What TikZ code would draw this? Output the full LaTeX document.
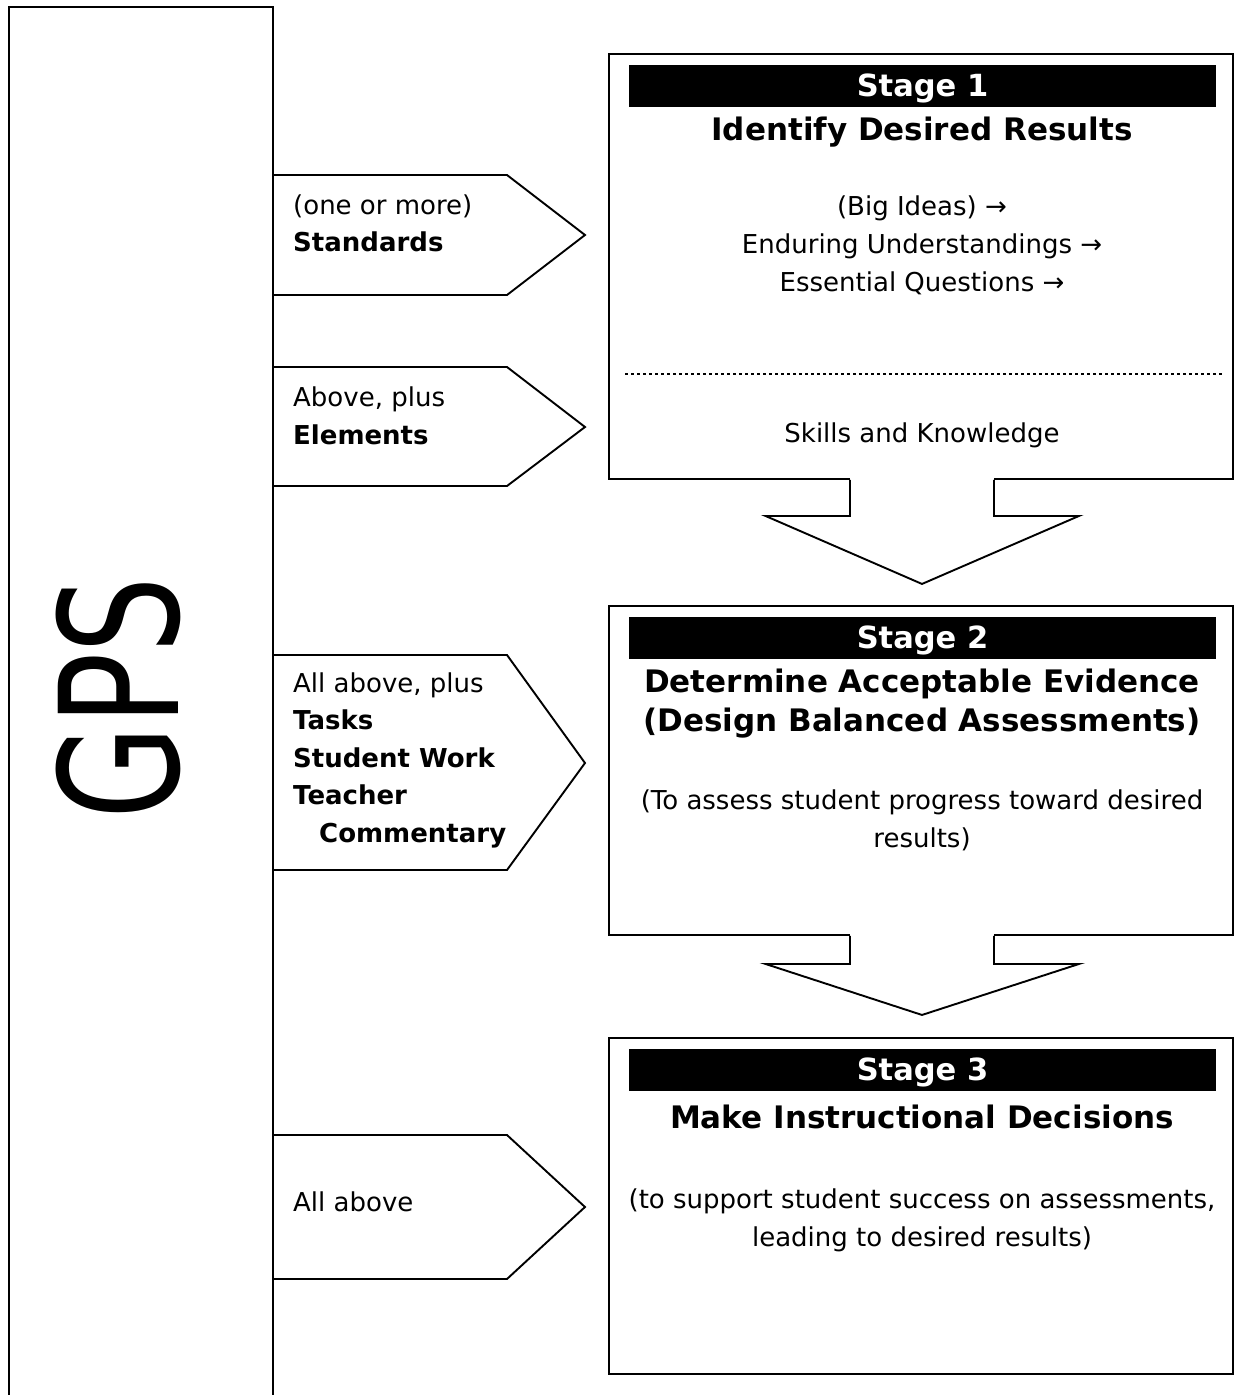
\documentclass[tikz,border=0pt]{standalone}
\usepackage{fontspec}
\setmainfont{DejaVu Sans}
\usetikzlibrary{calc}
\begin{document}
\begin{tikzpicture}[x=1pt,y=-1pt,
  outline/.style={draw=black,line width=1.9pt,line join=miter},
  stagebox/.style={outline,rectangle,minimum width=624pt,inner sep=0pt},
  stagebar/.style={fill=black,minimum width=587pt,minimum height=42pt,inner sep=0pt},
  stagelabel/.style={text=white,inner sep=0pt,font=\fontsize{30.5}{36}\selectfont\bfseries},
  titletext/.style={align=center,inner sep=0pt,font=\fontsize{31}{39}\selectfont\bfseries},
  bodytext/.style={align=center,inner sep=0pt,font=\fontsize{26}{38}\selectfont},
  sidetext/.style={align=left,anchor=west,inner sep=0pt,font=\fontsize{26}{37.5}\selectfont}]
\useasboundingbox (0,0) rectangle (1235,1395);
\fill[white] (0,0) rectangle (1235,1395);

% GPS column (open at the bottom)
\draw[outline] (9,1400) -- (9,7) -- (273,7) -- (273,1400);
\node[rotate=90,inner sep=0pt,font=\fontsize{165}{165}\selectfont] (gps) at (118,698) {\scalebox{0.73}[1]{GPS}};

% pentagon arrows leaving the GPS column
\draw[outline] (273,175) -- (507,175) -- (585,235) -- (507,295) -- (273,295);
\node[sidetext] (std) at (293,223.5) {(one or more)\\\textbf{Standards}};

\draw[outline] (273,367) -- (507,367) -- (585,427) -- (507,486) -- (273,486);
\node[sidetext] (elm) at (293,416) {Above, plus\\\textbf{Elements}};

\draw[outline] (273,655) -- (507,655) -- (585,763) -- (507,870) -- (273,870);
\node[sidetext] (tsk) at (293,760) {All above, plus\\\textbf{Tasks}\\\textbf{Student Work}\\\textbf{Teacher}\\\hspace*{26pt}\textbf{Commentary}};

\draw[outline] (273,1135) -- (507,1135) -- (585,1207) -- (507,1279) -- (273,1279);
\node[sidetext] (all) at (293,1202) {All above};

% Stage 1
\node[stagebox,minimum height=425pt] (s1) at (921,266.5) {};
\node[stagebar] (s1bar) at (922.5,86) {};
\node[stagelabel] (s1label) at (922.5,88.5) {Stage 1};
\node[titletext] (s1title) at (922,132.5) {Identify Desired Results};
\node[bodytext] (s1body) at (922,245) {(Big Ideas) →\\Enduring Understandings →\\Essential Questions →};
\draw[line width=1.2pt,dash pattern=on 3pt off 3pt] (625,374) -- (1222,374);
\node[bodytext] (s1skills) at (922,435.5) {Skills and Knowledge};

% Stage 2
\node[stagebox,minimum height=329pt] (s2) at (921,770.5) {};
\node[stagebar] (s2bar) at (922.5,638) {};
\node[stagelabel] (s2label) at (922.5,640.5) {Stage 2};
\node[titletext] (s2title) at (922,704) {Determine Acceptable Evidence\\(Design Balanced Assessments)};
\node[bodytext] (s2body) at (922,820) {(To assess student progress toward desired\\results)};

% Stage 3
\node[stagebox,minimum height=336pt] (s3) at (921,1206) {};
\node[stagebar] (s3bar) at (922.5,1070) {};
\node[stagelabel] (s3label) at (922.5,1072.5) {Stage 3};
\node[titletext] (s3title) at (922,1116.5) {Make Instructional Decisions};
\node[bodytext] (s3body) at (922,1220.5) {(to support student success on assessments,\\leading to desired results)};

% block arrows between the stages
\fill[white] ($(s1.south)+(-71,-3)$) rectangle ($(s1.south)+(73,36)$);
\draw[outline] ($(s1.south)+(-71,0)$) -- ++(0,36) -- ++(-84.5,0) -- ($(s1.south)+(1,104)$)
  -- ($(s1.south)+(158,36)$) -- ++(-85,0) -- ++(0,-36);

\fill[white] ($(s2.south)+(-71,-3)$) rectangle ($(s2.south)+(73,28)$);
\draw[outline] ($(s2.south)+(-71,0)$) -- ++(0,28) -- ++(-84.5,0) -- ($(s2.south)+(1,79)$)
  -- ($(s2.south)+(158,28)$) -- ++(-85,0) -- ++(0,-28);
\end{tikzpicture}
\end{document}
